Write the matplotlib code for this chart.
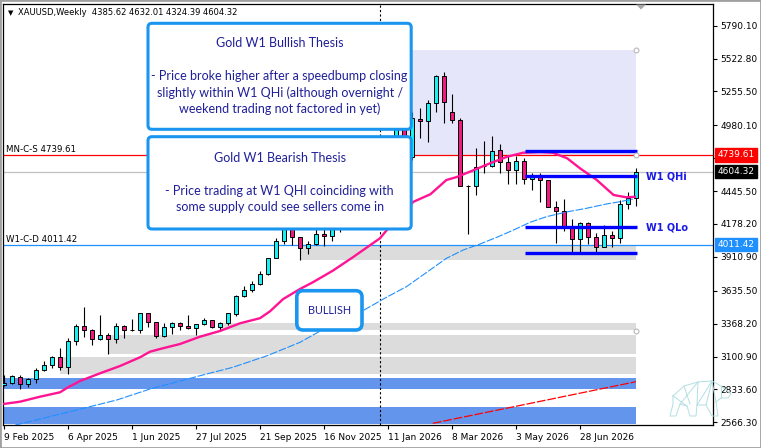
"""Gold weekly (XAUUSD W1) candle chart with thesis notes, MT4 style."""

import matplotlib

matplotlib.use("Agg")
import matplotlib.pyplot as plt
from matplotlib.patches import FancyBboxPatch, Polygon, Rectangle
from matplotlib.transforms import blended_transform_factory

# weekly candles, index 0 = 9 Feb 2025
opens = [
    2869.3, 2885.6, 2936.8, 2877.5, 2915.7, 2988.8, 3029.5, 3094.5, 3013.2, 3224.6,
    3346.5, 3314.0, 3240.8, 3273.3, 3240.8, 3346.5, 3314.0, 3314.0, 3452.2, 3379.0,
    3265.2, 3338.4, 3370.9, 3346.5, 3330.2, 3362.8, 3395.3, 3338.4, 3370.9, 3444.1,
    3592.8, 3641.6, 3690.4, 3771.7, 3899.3, 4039.9, 4135.0, 4074.9, 3980.6, 4013.1,
    4094.4, 4078.1, 4143.1, 4251.3, 4373.2, 4308.2, 4495.1, 4633.3, 4552.0, 4860.9,
    5007.3, 4722.7, 5029.2, 5013.0, 5159.3, 5381.2, 5092.6, 5021.1, 4489.4, 4487.0,
    4652.0, 4652.0, 4777.2, 4679.7, 4614.6, 4687.8, 4541.5, 4565.9, 4533.3, 4313.9,
    4281.3, 4151.3, 4060.2, 4183.8, 4074.9, 3993.6, 4086.2, 4061.9, 4338.2, 4385.62,
]
highs = [
    2950.6, 2950.6, 2950.6, 2928.7, 3005.1, 3066.9, 3105.1, 3167.7, 3249.0, 3362.8,
    3503.4, 3324.6, 3440.8, 3289.6, 3370.9, 3354.6, 3403.4, 3454.6, 3454.6, 3381.5,
    3370.9, 3379.0, 3379.0, 3435.9, 3365.2, 3411.5, 3397.7, 3379.0, 3454.6, 3600.9,
    3674.1, 3714.8, 3796.0, 3901.7, 4061.9, 4145.6, 4145.6, 4076.5, 4039.9, 4135.0,
    4135.0, 4170.0, 4275.6, 4405.7, 4413.8, 4519.5, 4674.0, 4698.4, 4893.5, 5064.2,
    5039.8, 5091.0, 5121.1, 5186.1, 5389.3, 5413.7, 5232.4, 5037.3, 4495.1, 4793.5,
    4850.4, 4891.0, 4826.0, 4728.4, 4728.4, 4712.2, 4590.2, 4590.2, 4535.8, 4367.5,
    4378.9, 4216.3, 4194.4, 4194.4, 4102.5, 4167.5, 4118.8, 4373.2, 4440.7, 4632.01,
]
lows = [
    2865.0, 2881.5, 2836.8, 2855.5, 2883.2, 2983.1, 3007.5, 2991.3, 2956.3, 3192.1,
    3262.0, 3192.1, 3235.1, 3118.9, 3208.3, 3249.0, 3305.9, 3289.6, 3338.4, 3249.0,
    3257.1, 3281.5, 3314.0, 3328.6, 3273.3, 3354.6, 3330.2, 3305.9, 3354.6, 3427.8,
    3584.7, 3625.3, 3682.2, 3763.6, 3899.3, 4015.5, 4007.4, 3885.5, 3931.8, 4011.4,
    3999.3, 4039.9, 4113.1, 4226.9, 4275.6, 4291.9, 4454.5, 4503.3, 4519.5, 4844.7,
    4682.1, 4698.4, 4877.2, 4842.2, 5086.1, 4996.7, 4996.7, 4487.0, 4094.4, 4416.3,
    4595.1, 4643.9, 4595.1, 4505.7, 4505.7, 4505.7, 4454.5, 4356.9, 4312.3, 4021.2,
    4123.6, 3950.5, 3939.9, 4015.5, 3952.9, 3988.7, 3993.6, 4021.2, 4297.6, 4324.39,
]
closes = [
    2885.6, 2940.1, 2875.0, 2918.1, 2991.3, 3029.5, 3094.5, 3013.2, 3224.6, 3346.5,
    3314.0, 3240.8, 3273.3, 3240.8, 3346.5, 3314.0, 3316.4, 3452.2, 3379.0, 3265.2,
    3338.4, 3370.9, 3346.5, 3330.2, 3362.8, 3395.3, 3338.4, 3370.9, 3452.2, 3592.8,
    3641.6, 3690.4, 3771.7, 3899.3, 4039.9, 4135.0, 4074.9, 3980.6, 4013.1, 4094.4,
    4078.1, 4143.1, 4251.3, 4373.2, 4308.2, 4495.1, 4633.3, 4552.0, 4860.9, 5007.3,
    4722.7, 5039.8, 5013.0, 5159.3, 5381.2, 5167.4, 5021.1, 4489.4, 4490.5, 4643.9,
    4653.6, 4775.6, 4679.7, 4614.6, 4687.8, 4541.5, 4565.9, 4533.3, 4313.9, 4281.3,
    4151.3, 4060.2, 4183.8, 4074.9, 3993.6, 4086.2, 4061.9, 4338.2, 4389.5, 4604.32,
]

# moving averages (week index, price)
pink_ma_x = [-0.1, 2, 4.5, 7, 8, 9.5, 12, 14.5, 17, 18.25, 19.5, 22, 24.5, 27, 29.5,
             32, 33.25, 34.9, 37, 38.6, 41.1, 43.6, 47, 49.1, 51.2, 53.3, 55.3, 56.6,
             58.6, 60.75, 62.9, 64.9, 67, 68.6, 70.4, 72, 74.1, 76.2, 77.8, 79]
pink_ma_y = [2714.9, 2733.6, 2774.2, 2810.0, 2850.6, 2901.9, 2964.4, 3023.8, 3094.5,
             3140.0, 3162.0, 3202.6, 3262.0, 3308.3, 3370.9, 3412.4, 3468.4, 3568.4,
             3649.7, 3704.2, 3798.5, 3907.4, 4062.0, 4226.9, 4359.4, 4420.0, 4535.8,
             4560.0, 4613.0, 4671.5, 4725.2, 4757.7, 4763.4, 4757.7, 4712.2, 4630.9,
             4535.8, 4413.8, 4395.1, 4400.0]
blue_ma_x = [1.4, 2, 7.9, 14.1, 18.25, 24.5, 28.6, 32.9, 37, 41.1, 44.5, 47.8, 50.3,
             53.25, 55.3, 57.4, 59.5, 61.6, 63.7, 65.75, 67.8, 70.3, 72.8, 75.3, 77,
             78.6]
blue_ma_y = [2544.2, 2552.3, 2647.4, 2747.4, 2836.8, 2944.9, 3013.2, 3107.5, 3216.4,
             3365.2, 3460.3, 3582.2, 3668.4, 3804.2, 3899.3, 3966.7, 4015.5, 4070.0,
             4129.3, 4191.9, 4237.4, 4275.7, 4305.7, 4340.7, 4359.4, 4381.0]
red_ma_x = [53.6, 65.4, 79]
red_ma_y = [2558.0, 2714.9, 2896.2]

# key levels
mn_cs = 4739.61
w1_cd = 4011.42
last_close = closes[-1]
q_levels = [4774.0, 4568.3, 4151.3, 3944.0]
q_start, q_end = 65.1, 79.1

# zones: start week, top, bottom
zone_start = [49, 37, 27, 13, 7, -1, -1]
zone_top = [5592.5, 4011.42, 3373.3, 3275.8, 3099.4, 2923.8, 2692.9]
zone_bottom = [4739.61, 3885.5, 3316.4, 3121.3, 2958.8, 2836.8, 2552.3]
zone_colors = ["#e6e6fa", "#dcdcdc", "#dcdcdc", "#dcdcdc", "#dcdcdc", "#6495ed", "#6495ed"]
zone_end = 79

date_idx = [0, 8, 16, 24, 32, 40, 48, 56, 64, 72]
date_labels = ["9 Feb 2025", "6 Apr 2025", "1 Jun 2025", "27 Jul 2025", "21 Sep 2025",
               "16 Nov 2025", "11 Jan 2026", "8 Mar 2026", "3 May 2026", "28 Jun 2026"]
price_ticks = [5790.10, 5522.80, 5255.50, 4980.10, 4712.80, 4445.50, 4178.20,
               3910.90, 3635.50, 3368.20, 3100.90, 2833.60, 2566.30]

W, H = 761, 448
PX_X = 0.125   # week index per pixel
PX_Y = 8.129   # price per pixel


def fpx(x, y):
    return (x / W, 1 - y / H)


fig = plt.figure(figsize=(W / 100, H / 100), dpi=100)
fig.patch.set_facecolor("white")
ax = fig.add_axes([3 / W, 1 - 425 / H, 710 / W, 421 / H])
ax.set_xlim(-0.125, 88.625)
ax.set_ylim(2544.2, 5966.5)
ax.set_facecolor("white")

# zones
for s, top, bot, col in zip(zone_start, zone_top, zone_bottom, zone_colors):
    ax.add_patch(Rectangle((s, bot), zone_end - s, top - bot, fc=col, ec="none", zorder=1))

# horizontal levels and separator
ax.axhline(mn_cs, color="red", lw=0.9, zorder=2)
ax.axhline(last_close, color="#c0c0c0", lw=0.9, zorder=2)
ax.axhline(w1_cd, color="#1e90ff", lw=0.9, zorder=2)
ax.axvline(47, color="black", lw=0.8, ls=(0, (2, 2)), zorder=2)
ax.text(0.25, mn_cs + 2.5 * PX_Y, f"MN-C-S {mn_cs:.2f}", fontsize=6.2, va="baseline", zorder=3)
ax.text(0.25, w1_cd + 3 * PX_Y, f"W1-C-D {w1_cd:.2f}", fontsize=6.2, va="baseline", zorder=3)

# candles
idx = list(range(len(opens)))
body_colors = ["#19f0f0" if c >= o else "#f0197f" for o, c in zip(opens, closes)]
ax.vlines(idx, lows, highs, color="black", lw=0.8, zorder=4)
ax.bar(idx, [c - o for o, c in zip(opens, closes)], bottom=opens, width=0.62,
       color=body_colors, edgecolor="black", lw=0.7, zorder=5)

# moving averages
ax.plot(pink_ma_x, pink_ma_y, color="#ff1493", lw=1.7, zorder=6, solid_capstyle="butt")
ax.plot(blue_ma_x, blue_ma_y, color="#1e90ff", lw=0.8, ls=(0, (7, 1.5)), zorder=6)
ax.plot(red_ma_x, red_ma_y, color="red", lw=0.9, ls=(0, (7, 1.5)), zorder=6)

# weekly quarter levels
ax.hlines(q_levels, q_start, q_end, color="#0000ff", lw=2.4, zorder=7)
ax.text(80.2, q_levels[1], "W1 QHi", color="#1a1ae6", fontsize=7.0, fontweight="bold",
        va="center", zorder=7)
ax.text(80.2, q_levels[2], "W1 QLo", color="#1a1ae6", fontsize=7.0, fontweight="bold",
        va="center", zorder=7)
ax.plot([79, 79, 79], [5592.5, mn_cs, 3310.7], "o", ms=3.5, mfc="white", mec="#b8b8b8",
        mew=0.8, zorder=8, clip_on=False)

# note boxes
note_color = "#1f1f99"
note_font = "Lato"


def note_box(x0, x1, top, bot, lw=2.2, r=0.5):
    box = FancyBboxPatch((x0, bot), x1 - x0, top - bot,
                         boxstyle=f"round,pad=0,rounding_size={r}",
                         mutation_aspect=PX_Y / PX_X, fc="white", ec="#1a96f0",
                         lw=lw, zorder=9)
    ax.add_patch(box)


def note_text(x, y, s, size=9.0):
    ax.text(x, y, s, ha="center", va="center", color=note_color, fontsize=size,
            family=note_font, zorder=10)


bull_top, bull_bot = 5809.6, 4947.9
bear_top, bear_bot = 4887.8, 4137.5
bx0, bx1 = 18.0, 50.9
bxc = (bx0 + bx1) / 2
note_box(bx0, bx1, bull_top, bull_bot)
note_text(bxc, bull_top - 20 * PX_Y, "Gold W1 Bullish Thesis")
bull_lines = ["- Price broke higher after a speedbump closing",
              "slightly within W1 QHi (although overnight /",
              "weekend trading not factored in yet)"]
for k, s in enumerate(bull_lines):
    note_text(bxc, bull_top - (53 + 16 * k) * PX_Y, s)

note_box(bx0, bx1, bear_top, bear_bot)
note_text(bxc, bear_top - 21.3 * PX_Y, "Gold W1 Bearish Thesis")
bear_lines = ["- Price trading at W1 QHI coinciding with",
              "some supply could see sellers come in"]
for k, s in enumerate(bear_lines):
    note_text(bxc, bear_top - (54 + 16.6 * k) * PX_Y, s)

note_box(36.6, 44.75, 3635.9, 3316.4, lw=2.6, r=0.8)
note_text(40.7, 3476.0, "BULLISH", size=7.8)

# axes styling
for sp in ax.spines.values():
    sp.set_linewidth(0.9)
    sp.set_color("black")
ax.yaxis.tick_right()
ax.set_yticks(price_ticks)
ax.set_yticklabels([f"{v:.2f}" for v in price_ticks])
ax.tick_params(axis="y", length=3, width=0.8, pad=2.5, labelsize=6.5, direction="out")
ax.set_xticks(date_idx)
ax.set_xticklabels(date_labels)
for lbl in ax.get_xticklabels():
    lbl.set_horizontalalignment("left")
ax.tick_params(axis="x", length=3, width=0.8, pad=3, labelsize=6.5, direction="out")

tr = blended_transform_factory(ax.transAxes, ax.transData)
for level, fc in [(mn_cs, "red"), (last_close, "black"), (w1_cd, "#1e90ff")]:
    ax.text(1.0061, level, f"{level:.2f}", transform=tr, color="white", fontsize=6.5,
            ha="left", va="center", zorder=12, clip_on=False,
            bbox=dict(boxstyle="square,pad=0.25", fc=fc, ec=fc))

# header
fig.text(*fpx(8, 12.7), "\u25bc", fontsize=5, va="center", ha="left")
fig.text(*fpx(18, 12.7),
         f"XAUUSD,Weekly  {opens[-1]:.2f} {highs[-1]:.2f} {lows[-1]:.2f} {closes[-1]:.2f}",
         fontsize=6.0, va="center", ha="left")

# chart shift marker
fig.add_artist(Polygon([fpx(636, 4.5), fpx(646, 4.5), fpx(641, 9.5)], closed=True,
                       fc="#a8a8a8", ec="none", transform=fig.transFigure))

# faint bear watermark
bear_outline = [(673, 396), (684, 386), (698, 382), (712, 381), (721, 386), (726, 390),
                (731, 394), (728, 398), (721, 398), (716, 402), (718, 416), (712, 416),
                (706, 405), (697, 405), (696, 416), (690, 416), (687, 406), (680, 404),
                (676, 416), (670, 416), (673, 404), (673, 396)]
bear_inner = [[(684, 386), (690, 404)], [(698, 382), (697, 405)], [(712, 381), (706, 405)],
              [(712, 381), (716, 402)], [(721, 386), (721, 398)], [(673, 396), (687, 406)],
              [(698, 382), (680, 404)], [(712, 381), (697, 405)]]
for seg in [bear_outline] + bear_inner:
    xs, ys = zip(*[fpx(x, y) for x, y in seg])
    fig.add_artist(plt.Line2D(xs, ys, color="#b4dfe3", lw=0.7, transform=fig.transFigure))

# window frame
fig.add_artist(Rectangle((0, 0), 1, 1, transform=fig.transFigure, fill=False,
                         ec="#a0a0a0", lw=2))

fig.savefig("out.png", dpi=100)
